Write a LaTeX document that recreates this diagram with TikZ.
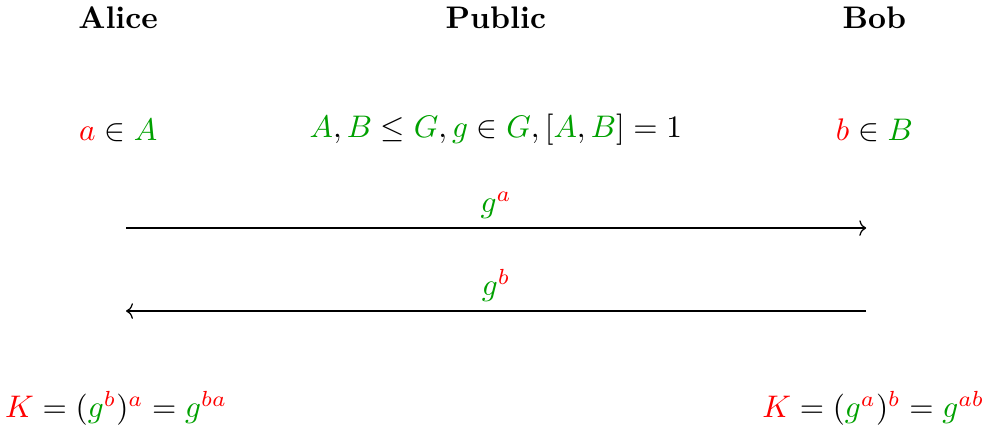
\documentclass[tikz,border=0pt]{standalone}
\usepackage{amsmath}
\usepackage{amssymb}
\usepackage{xcolor}
\usetikzlibrary{positioning, arrows.meta}
\definecolor{privred}{RGB}{255, 0, 0}
\definecolor{pubgreen}{RGB}{0, 160, 0}
\newcommand{\pv}[1]{\textcolor{privred}{#1}}
\newcommand{\pb}[1]{\textcolor{pubgreen}{#1}}
\begin{document}
\begin{tikzpicture}[scale=1.047, party/.style={font=\bfseries}, msg/.style={-{To[length=2.2pt,width=5pt]}}]
\useasboundingbox (0,0) rectangle (10.6,4.613);
\node[party] (alice) at (1.27,4.42) {Alice};
\node[party] (public) at (5.33,4.42) {Public};
\node[party] (bob) at (9.40,4.42) {Bob};
\node (askey) at (1.27,3.215) {$\pv{a}\in\pb{A}$};
\node (pubinfo) at (5.33,3.215) {$\pb{A},\pb{B}\leq\pb{G},\pb{g}\in\pb{G},[\pb{A},\pb{B}]=1$};
\node (bskey) at (9.40,3.215) {$\pv{b}\in\pb{B}$};
\coordinate (a1) at (1.355,2.161);
\coordinate (b1) at (9.31,2.161);
\coordinate (a2) at (1.355,1.269);
\coordinate (b2) at (9.31,1.269);
\draw[msg] (a1) -- (b1) node[midway, above=-0.5pt] {$\pb{g}^{\pv{a}}$};
\draw[msg] (b2) -- (a2) node[midway, above=-0.5pt] {$\pb{g}^{\pv{b}}$};
\node (akey) at (1.25,0.226) {$\pv{K}=(\pb{g}^{\pv{b}})^{\pv{a}}=\pb{g}^{\pv{ba}}$};
\node (bkey) at (9.39,0.226) {$\pv{K}=(\pb{g}^{\pv{a}})^{\pv{b}}=\pb{g}^{\pv{ab}}$};
\end{tikzpicture}
\end{document}
